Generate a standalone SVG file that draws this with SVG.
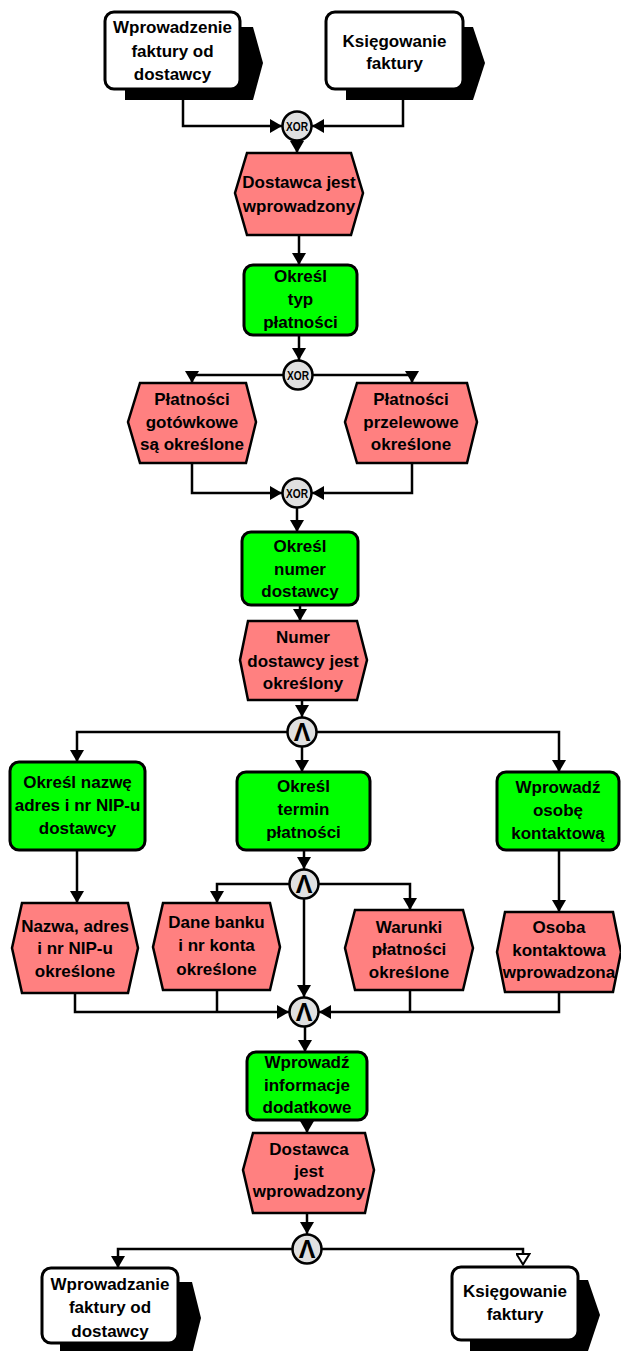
<svg xmlns="http://www.w3.org/2000/svg" width="621" height="1351" viewBox="0 0 621 1351">
<style>
  .t { font-family: "Liberation Sans", Arial, sans-serif; font-weight: bold; font-size: 17px; fill: #000; text-anchor: middle; }
  .gt { font-family: "Liberation Sans", Arial, sans-serif; font-weight: bold; font-size: 13px; fill: #000; text-anchor: middle; }
  .at { font-family: "Liberation Sans", Arial, sans-serif; font-weight: bold; font-size: 25px; fill: #000; text-anchor: middle; }
  .ev { fill: #ff8080; stroke: #000; stroke-width: 2.5; stroke-linejoin: miter; }
  .fn { fill: #00ff00; stroke: #000; stroke-width: 3; }
  .pi { fill: #fff; stroke: #000; stroke-width: 3; }
  .sh { fill: #000; }
  .gw { fill: #e0e0e0; stroke: #000; stroke-width: 2.5; }
  .c { fill: none; stroke: #000; stroke-width: 2.5; marker-end: url(#arr); }
  .cn { fill: none; stroke: #000; stroke-width: 2.5; }
  .ch { fill: none; stroke: #000; stroke-width: 2.5; marker-end: url(#arrh); }
</style>
<defs>
  <marker id="arr" markerUnits="userSpaceOnUse" viewBox="0 0 12 14" markerWidth="12" markerHeight="14" refX="12" refY="7" orient="auto">
    <path d="M0,0 L12,7 L0,14 z" fill="#000"/>
  </marker>
  <marker id="arrh" markerUnits="userSpaceOnUse" viewBox="0 0 13 15" markerWidth="13" markerHeight="15" refX="1" refY="7.5" orient="auto">
    <path d="M1,1 L11.5,7.5 L1,14 z" fill="#fff" stroke="#000" stroke-width="2"/>
  </marker>
</defs>

<g id="connectors">
  <path class="c" d="M183,100 V126 H282"/>
  <path class="c" d="M403,100 V126 H312"/>
  <path class="c" d="M297,141 V153"/>
  <path class="c" d="M299,235 V265"/>
  <path class="c" d="M299,335 V360"/>
  <path class="c" d="M283,375 H192 V383"/>
  <path class="c" d="M313,375 H412 V383"/>
  <path class="c" d="M192,463 V493 H282"/>
  <path class="c" d="M412,463 V493 H312"/>
  <path class="c" d="M297,508 V532"/>
  <path class="c" d="M300,605 V621"/>
  <path class="c" d="M302,700 V717"/>
  <path class="c" d="M287,732 H77 V762"/>
  <path class="c" d="M317,732 H559 V772"/>
  <path class="c" d="M302,747 V772"/>
  <path class="c" d="M77,850 V903"/>
  <path class="c" d="M304,850 V869"/>
  <path class="c" d="M289,884 H217 V903"/>
  <path class="c" d="M319,884 H410 V910"/>
  <path class="c" d="M304,899 V997"/>
  <path class="c" d="M559,850 V912"/>
  <path class="c" d="M75,993 V1012 H289"/>
  <path class="cn" d="M217,990 V1012"/>
  <path class="c" d="M559,992 V1012 H319"/>
  <path class="cn" d="M410,990 V1012"/>
  <path class="c" d="M305,1027 V1052"/>
  <path class="c" d="M307,1120 V1133"/>
  <path class="c" d="M307,1213 V1234"/>
  <path class="c" d="M292,1249 H118 V1268"/>
  <path class="ch" d="M322,1249 H523 V1254"/>
</g>

<g id="pi-top-left">
  <polygon class="sh" points="125,27 253,27 263,63 253,100 125,100"/>
  <rect class="pi" x="105" y="12" width="135" height="77" rx="9"/>
  <text class="t" x="172.5" y="33">Wprowadzenie</text>
  <text class="t" x="172.5" y="57">faktury od</text>
  <text class="t" x="172.5" y="80">dostawcy</text>
</g>
<g id="pi-top-right">
  <polygon class="sh" points="346,27 473,27 485,63 473,100 346,100"/>
  <rect class="pi" x="326" y="12" width="137" height="77" rx="9"/>
  <text class="t" x="394.5" y="47">Księgowanie</text>
  <text class="t" x="394.5" y="69">faktury</text>
</g>

<g id="xor1">
  <circle class="gw" cx="297" cy="126" r="14.5"/>
  <text class="gt" x="297" y="130.5" textLength="22" lengthAdjust="spacingAndGlyphs">XOR</text>
</g>

<g id="ev-dostawca1">
  <polygon class="ev" points="247,153 351,153 363,193 351,235 247,235 235,193"/>
  <text class="t" x="299" y="188">Dostawca jest</text>
  <text class="t" x="299" y="212">wprowadzony</text>
</g>

<g id="fn-typ">
  <rect class="fn" x="244" y="265" width="113" height="70" rx="9"/>
  <text class="t" x="300.5" y="282">Określ</text>
  <text class="t" x="300.5" y="305">typ</text>
  <text class="t" x="300.5" y="328">płatności</text>
</g>

<g id="xor2">
  <circle class="gw" cx="298" cy="375" r="14.5"/>
  <text class="gt" x="298" y="379.5" textLength="22" lengthAdjust="spacingAndGlyphs">XOR</text>
</g>

<g id="ev-gotowkowe">
  <polygon class="ev" points="140,383 246,383 256,422 246,463 140,463 128,422"/>
  <text class="t" x="192" y="405">Płatności</text>
  <text class="t" x="192" y="428">gotówkowe</text>
  <text class="t" x="192" y="450">są określone</text>
</g>
<g id="ev-przelewowe">
  <polygon class="ev" points="357,383 467,383 477,422 467,463 357,463 345,422"/>
  <text class="t" x="411" y="405">Płatności</text>
  <text class="t" x="411" y="428">przelewowe</text>
  <text class="t" x="411" y="450">określone</text>
</g>

<g id="xor3">
  <circle class="gw" cx="297" cy="493" r="14.5"/>
  <text class="gt" x="297" y="497.5" textLength="22" lengthAdjust="spacingAndGlyphs">XOR</text>
</g>

<g id="fn-numer">
  <rect class="fn" x="242" y="532" width="116" height="73" rx="9"/>
  <text class="t" x="300" y="552">Określ</text>
  <text class="t" x="300" y="575">numer</text>
  <text class="t" x="300" y="597">dostawcy</text>
</g>

<g id="ev-numer">
  <polygon class="ev" points="248,621 357,621 367,660 357,700 248,700 240,660"/>
  <text class="t" x="303" y="643">Numer</text>
  <text class="t" x="303" y="667">dostawcy jest</text>
  <text class="t" x="303" y="689">określony</text>
</g>

<g id="and1">
  <circle class="gw" cx="302" cy="732" r="14.5"/>
  <text class="at" x="302" y="741">Λ</text>
</g>

<g id="fn-nazwa">
  <rect class="fn" x="10" y="762" width="135" height="88" rx="9"/>
  <text class="t" x="77.5" y="788">Określ nazwę</text>
  <text class="t" x="77.5" y="811">adres i nr NIP-u</text>
  <text class="t" x="77.5" y="834">dostawcy</text>
</g>
<g id="fn-termin">
  <rect class="fn" x="237" y="772" width="133" height="78" rx="9"/>
  <text class="t" x="303.5" y="792">Określ</text>
  <text class="t" x="303.5" y="815">termin</text>
  <text class="t" x="303.5" y="838">płatności</text>
</g>
<g id="fn-osoba">
  <rect class="fn" x="497" y="772" width="122" height="78" rx="9"/>
  <text class="t" x="558" y="793">Wprowadź</text>
  <text class="t" x="558" y="816">osobę</text>
  <text class="t" x="558" y="839">kontaktową</text>
</g>

<g id="and2">
  <circle class="gw" cx="304" cy="884" r="14.5"/>
  <text class="at" x="304" y="893">Λ</text>
</g>

<g id="ev-nazwa">
  <polygon class="ev" points="22,903 128,903 138,948 128,993 22,993 12,948"/>
  <text class="t" x="75" y="932">Nazwa, adres</text>
  <text class="t" x="75" y="954">i nr NIP-u</text>
  <text class="t" x="75" y="977">określone</text>
</g>
<g id="ev-bank">
  <polygon class="ev" points="163,903 270,903 280,947 270,990 163,990 153,947"/>
  <text class="t" x="216.5" y="928">Dane banku</text>
  <text class="t" x="216.5" y="951">i nr konta</text>
  <text class="t" x="216.5" y="975">określone</text>
</g>
<g id="ev-warunki">
  <polygon class="ev" points="355,910 463,910 473,948 463,990 355,990 345,948"/>
  <text class="t" x="409" y="933">Warunki</text>
  <text class="t" x="409" y="955">płatności</text>
  <text class="t" x="409" y="978">określone</text>
</g>
<g id="ev-osoba">
  <polygon class="ev" points="505,912 613,912 621,952 613,992 505,992 497,952"/>
  <text class="t" x="559" y="933">Osoba</text>
  <text class="t" x="559" y="956">kontaktowa</text>
  <text class="t" x="559" y="978">wprowadzona</text>
</g>

<g id="and3">
  <circle class="gw" cx="304" cy="1012" r="14.5"/>
  <text class="at" x="304" y="1021">Λ</text>
</g>

<g id="fn-informacje">
  <rect class="fn" x="247" y="1052" width="120" height="68" rx="9"/>
  <text class="t" x="307" y="1068">Wprowadź</text>
  <text class="t" x="307" y="1091">informacje</text>
  <text class="t" x="307" y="1113">dodatkowe</text>
</g>

<g id="ev-dostawca2">
  <polygon class="ev" points="253,1133 365,1133 374,1170 365,1213 253,1213 243,1170"/>
  <text class="t" x="309" y="1155">Dostawca</text>
  <text class="t" x="309" y="1177">jest</text>
  <text class="t" x="309" y="1197">wprowadzony</text>
</g>

<g id="and4">
  <circle class="gw" cx="307" cy="1249" r="14.5"/>
  <text class="at" x="307" y="1258">Λ</text>
</g>

<g id="pi-bottom-left">
  <polygon class="sh" points="60,1282 192,1282 201,1318 192,1354 60,1354"/>
  <rect class="pi" x="42" y="1268" width="136" height="75" rx="9"/>
  <text class="t" x="110" y="1290">Wprowadzanie</text>
  <text class="t" x="110" y="1313">faktury od</text>
  <text class="t" x="110" y="1337">dostawcy</text>
</g>
<g id="pi-bottom-right">
  <polygon class="sh" points="470,1280 588,1280 600,1315 588,1351 470,1351"/>
  <rect class="pi" x="452" y="1267" width="126" height="73" rx="9"/>
  <text class="t" x="515" y="1297">Księgowanie</text>
  <text class="t" x="515" y="1320">faktury</text>
</g>
</svg>
